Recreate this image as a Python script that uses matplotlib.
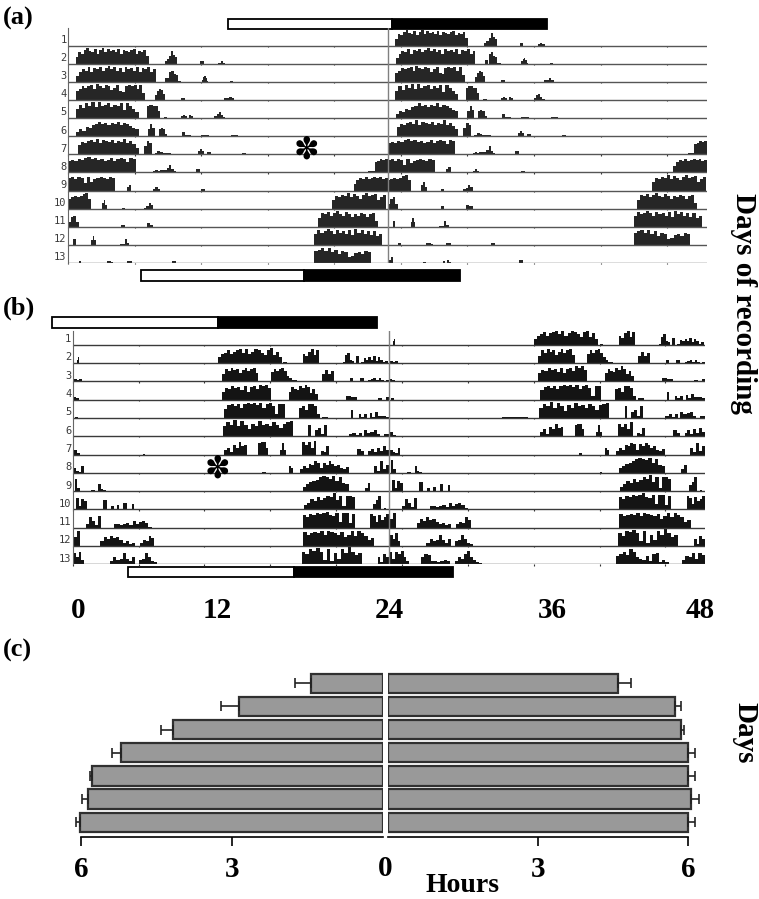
import numpy as np
from matplotlib import pyplot as plt

plt.rcParams['font.family'] = ['Liberation Serif', 'DejaVu Sans']

# Activity bouts per recording day: (start hour, end hour, heights read along the bout).
a_day1 = []
a_day2 = [(0.58, 6.05, [6, 10, 9, 12, 14, 11, 10, 13, 9, 12, 14, 10, 13, 11, 12, 10, 13, 9, 12, 11, 10, 12, 13, 9, 11, 10, 12, 7]),
          (7.25, 7.6, [2, 4]), (7.6, 8.2, [7, 11, 8, 6]), (9.95, 10.2, [2]), (11.3, 11.8, [1, 2, 1])]
a_day3 = [(0.62, 6.6, [5, 9, 11, 10, 13, 9, 12, 11, 13, 10, 12, 14, 11, 13, 10, 12, 9, 13, 11, 12, 10, 13, 9, 12, 11, 13, 9, 11]),
          (7.3, 7.55, [3]), (7.6, 8.25, [9, 10, 7, 6]), (8.25, 8.5, [1]), (10.05, 10.55, [2, 4, 5, 3, 1]), (12.2, 12.4, [1])]
a_day4 = [(0.58, 5.8, [8, 10, 12, 11, 12, 13, 10, 14, 12, 11, 13, 12, 9, 11, 13, 8, 7, 12, 13, 12, 13, 10, 13, 6]),
          (6.55, 7.3, [4, 8, 10, 9, 5]), (8.5, 8.8, [2]), (11.75, 12.5, [2, 2, 3, 2])]
a_day5 = [(0.58, 5.3, [8, 12, 9, 13, 11, 14, 10, 14, 11, 12, 13, 10, 12, 11, 13, 7, 13, 11, 8, 5]),
          (5.9, 6.9, [11, 12, 12, 11, 11, 6]), (7.2, 7.45, [1]), (8.5, 9.4, [2, 3, 2, 0, 3, 2]), (11, 11.8, [2, 4, 5, 3, 1])]
a_day6 = [(0.62, 5.3, [4, 6, 5, 8, 7, 10, 11, 13, 11, 12, 10, 12, 11, 13, 10, 12, 11, 9, 7, 6]),
          (6, 6.5, [6, 11, 7]), (6.8, 7.45, [6, 7, 6, 2]), (8.6, 9.25, [4, 1, 1]), (10, 10.6, [1, 1]), (12.25, 12.8, [1, 1])]
a_day7 = [(0.72, 5.3, [8, 11, 10, 12, 13, 11, 14, 10, 13, 12, 11, 13, 10, 12, 11, 14, 10, 12, 9, 6]),
          (5.7, 6.3, [7, 12, 10]), (6.5, 7.75, [1, 3, 2, 1, 1, 1]), (9.8, 10.25, [3, 5, 3]), (10.45, 10.75, [2]), (13.1, 13.4, [1])]
a_day8 = [(0, 5.1, [10, 11, 10, 12, 11, 13, 14, 12, 13, 11, 12, 10, 11, 13, 10, 12, 13, 12, 9, 13, 12]),
          (6.4, 8.1, [1, 2, 1, 2, 2, 2, 4, 7, 3, 1]), (9.6, 9.9, [3]), (22.55, 23.05, [1]), (23.05, 24, [9, 10, 12, 11, 12])]
a_day9 = [(0, 3.55, [11, 12, 10, 12, 11, 7, 12, 8, 10, 11, 12, 11, 10, 12, 11]),
          (4.4, 4.75, [3, 5]), (6.4, 6.9, [1, 3, 1]), (10, 10.3, [1]), (21.45, 24, [6, 9, 11, 10, 12, 10, 11, 12, 11, 12, 10, 11])]
a_day10 = [(0, 1.75, [9, 10, 11, 10, 11, 13, 14, 9]), (2.55, 2.95, [5, 8, 3]), (4.05, 4.25, [1]), (5.7, 6.4, [1, 2, 5, 3]),
           (19.85, 23.9, [8, 11, 10, 12, 11, 14, 10, 13, 11, 9, 12, 14, 11, 12, 13, 8, 10, 12])]
a_day11 = [(0, 0.8, [4, 9, 10, 4]), (4, 4.25, [2]), (5.9, 6.4, [3, 2]),
           (18.75, 23.25, [8, 12, 11, 13, 10, 12, 14, 11, 10, 13, 11, 9, 11, 10, 12, 11, 9, 11, 12, 5])]
a_day12 = [(0.4, 0.6, [5]), (1.75, 2.1, [4, 8, 4]), (3.9, 4.6, [1, 1, 5, 2]),
           (18.5, 23.6, [10, 13, 11, 12, 14, 12, 10, 13, 11, 12, 10, 13, 9, 14, 11, 13, 10, 12, 9, 12, 8, 10])]
a_day13 = [(0.8, 1, [2]), (2.9, 3.4, [2, 2, 1]), (4.4, 4.8, [2, 2]), (7.8, 8.1, [2]),
           (18.5, 22.75, [11, 12, 13, 11, 13, 10, 12, 8, 11, 10, 5, 6, 9, 10, 8, 11, 10])]
a_day14 = [(0.05, 0.45, [3, 5]), (2.7, 2.9, [1]), (4.2, 4.35, [2]), (4.45, 4.75, [3, 1]), (9.9, 10.15, [3])]
a_days = [a_day1, a_day2, a_day3, a_day4, a_day5, a_day6, a_day7, a_day8, a_day9, a_day10, a_day11, a_day12, a_day13, a_day14]

b_day1 = []
b_day2 = [(0.3, 0.5, [3, 5]), (11.0, 15.9, [5, 8, 9, 11, 8, 10, 11, 12, 9, 12, 8, 10, 12, 11, 9, 7, 11, 13, 7, 10, 5]),
          (16, 16.25, [1]), (17.45, 18.7, [8, 6, 10, 12, 7, 11]), (20.5, 21.7, [1, 7, 9, 3, 2, 0, 6]),
          (21.9, 23.9, [1, 4, 3, 5, 3, 6, 2, 5, 3, 1, 2])]
b_day3 = [(0.1, 0.7, [2, 1, 2]), (11.35, 14.1, [6, 11, 9, 12, 10, 11, 7, 10, 12, 9, 11, 12, 7]),
          (15.05, 16.65, [8, 11, 9, 11, 12, 9, 5, 3]), (16.65, 17, [1]), (18.9, 19.8, [6, 10, 6, 9]),
          (21.05, 21.3, [3]), (21.8, 22.1, [3]), (22.45, 23.6, [1, 2, 3, 1, 3, 1]), (23.8, 24, [1])]
b_day4 = [(0.1, 0.45, [2, 1]), (11.35, 15.05, [7, 10, 9, 12, 10, 11, 8, 12, 7, 11, 12, 9, 13, 12, 13, 10]),
          (16.4, 18.6, [7, 11, 9, 8, 12, 10, 13, 11, 6, 9, 5]), (20.75, 21.55, [3, 3, 2, 2]), (23.2, 23.45, [1]), (23.8, 24, [2])]
b_day5 = [(0.2, 0.4, [1]), (11.5, 16.1, [8, 11, 12, 10, 12, 9, 12, 13, 12, 13, 11, 13, 9, 12, 13, 10, 3, 12, 12]),
          (17.2, 18.75, [9, 10, 7, 12, 12, 10, 3]), (18.9, 19.4, [1, 1]), (21.1, 21.3, [7]),
          (21.7, 24, [3, 1, 3, 0, 4, 1, 5, 2, 2, 2, 1])]
b_day6 = [(8.6, 10.6, [0.5, 0.5, 0.5]), (11.4, 16.75, [9, 12, 10, 14, 9, 13, 10, 6, 11, 9, 13, 10, 11, 9, 12, 10, 7, 11, 12, 13]),
          (17.9, 18.1, [10]), (18.4, 19.3, [5, 7, 2, 10]), (21, 21.95, [2, 3, 1, 3]), (22.1, 23.35, [5, 3, 4, 5, 2]), (23.6, 24, [2, 2])]
b_day7 = [(0.1, 0.55, [4, 1]), (5.3, 5.5, [0.5]), (11.5, 13.25, [4, 6, 2, 8, 6, 11, 7, 8]), (14.1, 14.85, [10, 11, 11, 6]),
          (15.75, 16.2, [4, 10, 4]), (17.4, 18.5, [11, 8, 11, 6, 12]), (18.85, 19.45, [3, 2, 7]), (21.6, 22.1, [5, 3]),
          (22.45, 24, [3, 5, 2, 6, 3, 7, 4])]
b_day8 = [(0.1, 0.85, [4, 2, 1, 6]), (14.4, 14.7, [1]), (16.4, 16.75, [6, 4]),
          (17.25, 20.95, [3, 6, 4, 8, 7, 10, 9, 4, 9, 7, 10, 8, 6, 7, 4, 3, 5]), (22.85, 24, [6, 2, 10, 3, 7])]
b_day9 = [(0.15, 0.55, [11, 3]), (1.4, 1.7, [1]), (1.95, 2.5, [6, 2, 1]), (16, 16.2, [0.5]),
          (17.45, 20.95, [4, 6, 8, 9, 10, 12, 13, 12, 11, 13, 9, 12, 7, 6]), (22.2, 22.6, [3, 7])]
b_day10 = [(0.25, 1.05, [10, 3, 9, 7]), (2.3, 2.6, [8]), (2.9, 3.1, [3]), (3.35, 3.55, [4]), (3.85, 4.1, [6]), (4.5, 4.65, [5]),
           (17.55, 21.45, [4, 6, 9, 7, 11, 8, 10, 12, 11, 14, 8, 12, 3, 12, 12, 11]), (22.8, 23.4, [5, 8, 12]), (23.6, 23.8, [1])]
b_day11 = [(1, 2.15, [3, 9, 6, 2, 10]), (3.1, 5.75, [3, 3, 2, 3, 4, 2, 6, 3, 5, 6, 4]), (5.75, 6, [1]),
           (17.45, 21.45, [11, 9, 12, 11, 13, 12, 13, 14, 11, 10, 13, 5, 13, 13, 4, 12]), (22.6, 24, [12, 10, 5, 11, 7, 9, 12])]
b_day12 = [(0.1, 0.55, [8, 13]), (2.1, 4.75, [4, 8, 6, 9, 7, 8, 5, 3, 4, 2, 3]), (5.1, 6.2, [3, 5, 4, 9, 7]),
           (17.5, 22.9, [12, 10, 11, 12, 11, 13, 10, 13, 12, 11, 10, 12, 8, 10, 13, 9, 13, 11, 9, 5, 7])]
b_day13 = [(0.1, 0.85, [10, 6, 11, 4]), (2.85, 4.75, [3, 6, 4, 5, 10, 5, 3, 6]), (5.05, 6.4, [4, 5, 10, 6, 3, 2]),
           (17.4, 21.95, [11, 9, 13, 12, 14, 11, 4, 13, 3, 10, 5, 13, 10, 15, 11, 8, 10]), (23.15, 24, [6, 2, 9, 6])]
b_day14 = [(0.05, 1.55, [11, 5, 11, 9, 12, 6, 3]), (2.45, 4.65, [6, 9, 8, 3, 3, 2, 3, 4, 3]), (5, 7.05, [3, 6, 5, 9, 12, 6, 4, 2, 1]),
           (17.25, 21.25, [7, 9, 11, 8, 13, 11, 6, 5, 4, 7, 3, 9, 10, 2, 4, 2]), (22.25, 24, [4, 7, 6, 10, 5, 10, 8])]
b_days = [b_day1, b_day2, b_day3, b_day4, b_day5, b_day6, b_day7, b_day8, b_day9, b_day10, b_day11, b_day12, b_day13, b_day14]

# Light/dark bars (white from, switch, black until), in hours.
a_ld_top = [12.0, 24.35, 36.0]
a_ld_bottom = [5.5, 17.7, 29.45]
b_ld_top = [-1.6, 11.0, 23.1]
b_ld_bottom = [4.2, 16.8, 28.85]

hour_labels = ['0', '12', '24', '36', '48']
hour_label_pos = [0.38, 11.0, 24.0, 36.4, 47.6]

# Panel c, hours, top bar first.
left_hours = [1.43, 2.87, 4.18, 5.2, 5.78, 5.87, 6.02]
left_err = [0.32, 0.35, 0.24, 0.19, 0.05, 0.11, 0.08]
right_hours = [4.59, 5.73, 5.85, 6.0, 6.0, 6.05, 6.0]
right_err = [0.27, 0.12, 0.07, 0.13, 0.13, 0.16, 0.13]

W, H = 759, 899


def px_axes(fig, x0, x1, y0, y1):
    return fig.add_axes([x0 / W, 1 - y1 / H, (x1 - x0) / W, (y1 - y0) / H])


def draw_day(ax, bouts, row, offset, spacing, color):
    for start, end, heights in bouts:
        edges = np.linspace(start, end, len(heights) + 1) + offset
        ax.bar(edges[:-1], -np.array(heights) / spacing, width=np.diff(edges), bottom=row,
               align='edge', color=color, linewidth=0)


def draw_ld(ax, ld, y, h):
    ax.barh(y, ld[1] - ld[0], left=ld[0], height=h, color='white', edgecolor='black', linewidth=1.3, clip_on=False)
    ax.barh(y, ld[2] - ld[1], left=ld[1], height=h, color='black', edgecolor='black', linewidth=1.3, clip_on=False)


def actogram(ax, days, top_row, spacing, line_color, bar_color):
    ax.set_xlim(0, 48)
    ax.set_ylim(13, top_row)
    for row in range(1, 14):
        draw_day(ax, days[row - 1], row, 0, spacing, bar_color)
        draw_day(ax, days[row], row, 24, spacing, bar_color)
        ax.text(-0.1, row - 0.03, str(row), family='DejaVu Sans Mono', fontsize=7.5, color='#3a3a3a',
                ha='right', va='bottom', clip_on=False)
        ax.vlines(range(0, 49, 5), row, row + 0.07, color='#333333', linewidth=0.8, clip_on=False)
    ax.hlines(range(1, 14), 0, 48, color=line_color, linewidth=1.0)
    ax.axvline(24, color='#808080', linewidth=1.0)
    ax.set_xticks([])
    ax.set_yticks([])
    for side in ['top', 'right', 'bottom']:
        ax.spines[side].set_visible(False)
    ax.spines['left'].set_color('#666666')
    ax.patch.set_alpha(0)


def side_bars(ax, hours, err, xlim):
    y = np.arange(len(hours))
    zeros = [0] * len(hours)
    ax.barh(y, hours, height=0.83, color='#999999', edgecolor='#303030', linewidth=1.6)
    ax.errorbar(hours, y, xerr=[zeros, err], fmt='none', ecolor='#222222', elinewidth=1.2, capsize=3.5, capthick=1.2)
    ax.set_xlim(*xlim)
    ax.set_ylim(6.65, -0.574)
    ax.set_yticks([])
    ax.set_xticks([3, 6])
    ax.tick_params(axis='x', length=6.8, width=1.2, pad=7, labelsize=21)
    for label in ax.get_xticklabels():
        label.set_fontweight('bold')
    for side in ['top', 'right', 'left']:
        ax.spines[side].set_visible(False)
    ax.spines['bottom'].set_bounds(0, 6)
    ax.spines['bottom'].set_linewidth(1.2)


fig = plt.figure(figsize=(W / 100, H / 100), dpi=100)

# Heights are scaled a little: the bars in the scan look fuller than single readings.
ax_a = px_axes(fig, 68, 707, 28, 263)
actogram(ax_a, a_days, 0.034, 16.2, '#555555', '#262626')
draw_ld(ax_a, a_ld_top, -0.186, 0.55)
draw_ld(ax_a, a_ld_bottom, 13.69, 0.58)
ax_a.text(17.9, 6.75, '\u273d', family='DejaVu Sans', fontsize=22, ha='center', va='center')

ax_b = px_axes(fig, 72.7, 705, 331, 564.3)
actogram(ax_b, b_days, 0.251, 16.0, '#3a3a3a', '#141414')
draw_ld(ax_b, b_ld_top, -0.208, 0.57)
draw_ld(ax_b, b_ld_bottom, 13.43, 0.55)
ax_b.text(11.0, 7.82, '\u273d', family='DejaVu Sans', fontsize=22, ha='center', va='center')
for label, pos in zip(hour_labels, hour_label_pos):
    ax_b.text(pos, 15.5, label, fontsize=21, fontweight='bold', ha='center', va='center', clip_on=False)

ax_left = px_axes(fig, 60, 383, 670, 837.3)
side_bars(ax_left, left_hours, left_err, (6.42, 0))
ax_right = px_axes(fig, 388, 710, 670, 837.3)
side_bars(ax_right, right_hours, right_err, (0, 6.44))

fig.text(3 / W, 1 - 18 / H, '(a)', fontsize=19, fontweight='bold', va='center')
fig.text(3 / W, 1 - 308 / H, '(b)', fontsize=19, fontweight='bold', va='center')
fig.text(3 / W, 1 - 650 / H, '(c)', fontsize=19, fontweight='bold', va='center')
fig.text(743 / W, 1 - 303 / H, 'Days of recording', fontsize=21, fontweight='bold', rotation=270, ha='center', va='center')
fig.text(745 / W, 1 - 733 / H, 'Days', fontsize=21, fontweight='bold', rotation=270, ha='center', va='center')
fig.text(462 / W, 1 - 885 / H, 'Hours', fontsize=20, fontweight='bold', ha='center', va='center')
fig.text(385 / W, 1 - 869 / H, '0', fontsize=21, fontweight='bold', ha='center', va='center')

fig.savefig('out.png', dpi=100)
